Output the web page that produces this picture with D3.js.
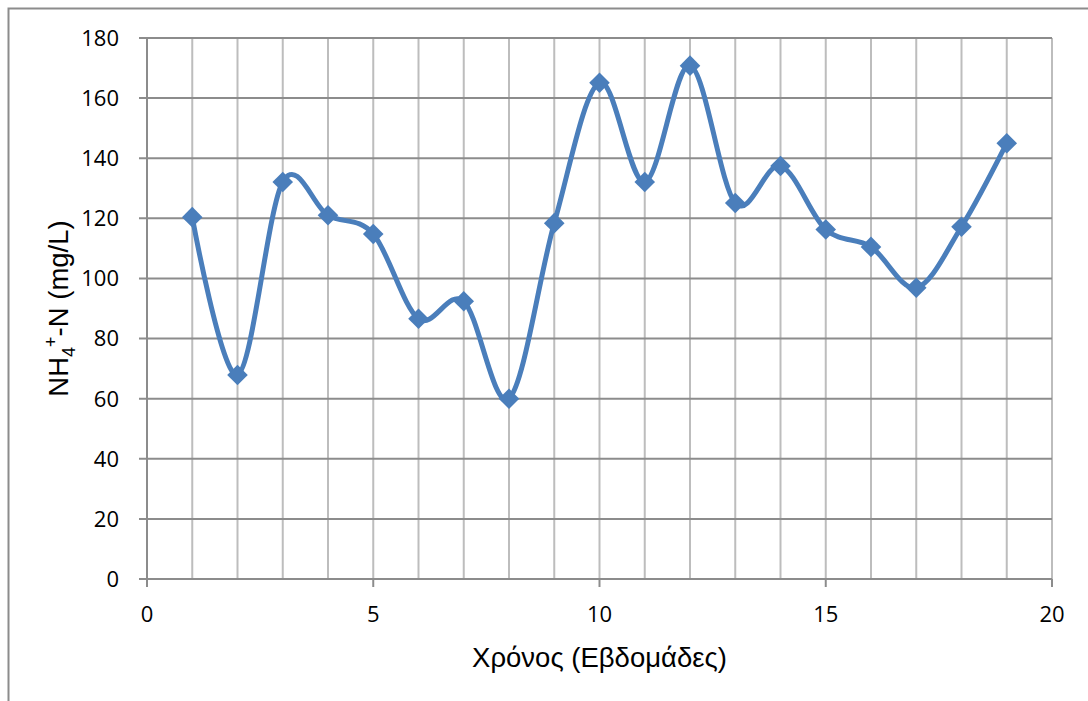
<!DOCTYPE html>
<html>
<head>
<meta charset="utf-8">
<script src="https://cdn.jsdelivr.net/npm/d3@7"></script>
<style>
  body { margin: 0; background: #fff; }
  svg { display: block; }
</style>
</head>
<body>
<div id="chart"></div>
<script>
// data
const weeks = [1, 2, 3, 4, 5, 6, 7, 8, 9, 10, 11, 12, 13, 14, 15, 16, 17, 18, 19];
const nh4 = [120.4, 67.9, 132.1, 121.0, 114.8, 86.6, 92.4, 60.0, 118.4, 165.1, 132.1, 170.8, 125.1, 137.4, 116.3, 110.5, 96.9, 117.2, 145.0];
const xTicks = [0, 5, 10, 15, 20];
const yTicks = [0, 20, 40, 60, 80, 100, 120, 140, 160, 180];

const width = 1088, height = 701;
const plotLeft = 147, plotRight = 1052, plotTop = 38, plotBottom = 579;

const svg = d3.select("#chart").append("svg")
    .attr("width", width)
    .attr("height", height);

// outer frame
svg.append("rect")
    .attr("x", 8.5).attr("y", 8.5)
    .attr("width", 1200).attr("height", 800)
    .attr("fill", "none")
    .attr("stroke", "#8c8c8c")
    .attr("stroke-width", 2);

let x = d3.scaleLinear().domain([0, 20]).range([plotLeft, plotRight]);
let y = d3.scaleLinear().domain([0, 180]).range([plotBottom, plotTop]);

// vertical gridlines, every week
svg.append("g")
    .selectAll("line")
    .data(d3.range(1, 21))
    .enter().append("line")
    .attr("x1", d => x(d)).attr("x2", d => x(d))
    .attr("y1", plotTop).attr("y2", plotBottom)
    .attr("stroke", "#bdbdbd")
    .attr("stroke-width", 2);

// horizontal gridlines + left ticks
svg.append("g")
    .selectAll("line")
    .data(yTicks)
    .enter().append("line")
    .attr("x1", plotLeft - 8).attr("x2", plotRight)
    .attr("y1", d => y(d)).attr("y2", d => y(d))
    .attr("stroke", "#8c8c8c")
    .attr("stroke-width", 2);

// y axis line
svg.append("line")
    .attr("x1", plotLeft).attr("x2", plotLeft)
    .attr("y1", plotTop).attr("y2", plotBottom)
    .attr("stroke", "#8c8c8c")
    .attr("stroke-width", 2);

// x major ticks
svg.append("g")
    .selectAll("line")
    .data(xTicks)
    .enter().append("line")
    .attr("x1", d => x(d)).attr("x2", d => x(d))
    .attr("y1", plotBottom).attr("y2", plotBottom + 8)
    .attr("stroke", "#8c8c8c")
    .attr("stroke-width", 2);

// tick labels
svg.append("g")
    .selectAll("text")
    .data(yTicks)
    .enter().append("text")
    .attr("x", plotLeft - 28)
    .attr("y", d => y(d))
    .attr("dy", "0.36em")
    .attr("text-anchor", "end")
    .style("font-family", "'Open Sans', sans-serif")
    .style("font-size", "22px")
    .attr("fill", "#000")
    .text(d => d);

svg.append("g")
    .selectAll("text")
    .data(xTicks)
    .enter().append("text")
    .attr("x", d => x(d))
    .attr("y", 622)
    .attr("text-anchor", "middle")
    .style("font-family", "'Open Sans', sans-serif")
    .style("font-size", "22px")
    .attr("fill", "#000")
    .text(d => d);

// axis titles
svg.append("text")
    .attr("x", (plotLeft + plotRight) / 2)
    .attr("y", 667)
    .attr("text-anchor", "middle")
    .style("font-family", "'Liberation Sans', Arial, sans-serif")
    .style("font-size", "27.5px")
    .text("Χρόνος (Εβδομάδες)");

const yTitle = svg.append("text")
    .attr("transform", "translate(68," + (plotTop + plotBottom) / 2 + ") rotate(-90)")
    .attr("text-anchor", "middle")
    .style("font-family", "'Liberation Sans', Arial, sans-serif")
    .style("font-size", "27.5px");
yTitle.append("tspan").text("NH");
yTitle.append("tspan").attr("dy", 7).style("font-size", "18px").text("4");
yTitle.append("tspan").attr("dy", -18).style("font-size", "18px").text("+");
yTitle.append("tspan").attr("dy", 11).text("-N (mg/L)");

// smoothed series line
const points = weeks.map((w, i) => [w, nh4[i]]);
let line = d3.line()
    .x(d => x(d[0]))
    .y(d => y(d[1]))
    .curve(d3.curveCardinal.tension(0));

svg.append("path")
    .datum(points)
    .attr("d", line)
    .attr("fill", "none")
    .attr("stroke", "#4a7ebb")
    .attr("stroke-width", 5)
    .attr("stroke-linejoin", "round");

// diamond markers
svg.append("g")
    .selectAll("path")
    .data(points)
    .enter().append("path")
    .attr("transform", d => "translate(" + x(d[0]) + "," + y(d[1]) + ")")
    .attr("d", d3.symbol(d3.symbolDiamond2, 270))
    .attr("fill", "#4a7ebb");
</script>
</body>
</html>
